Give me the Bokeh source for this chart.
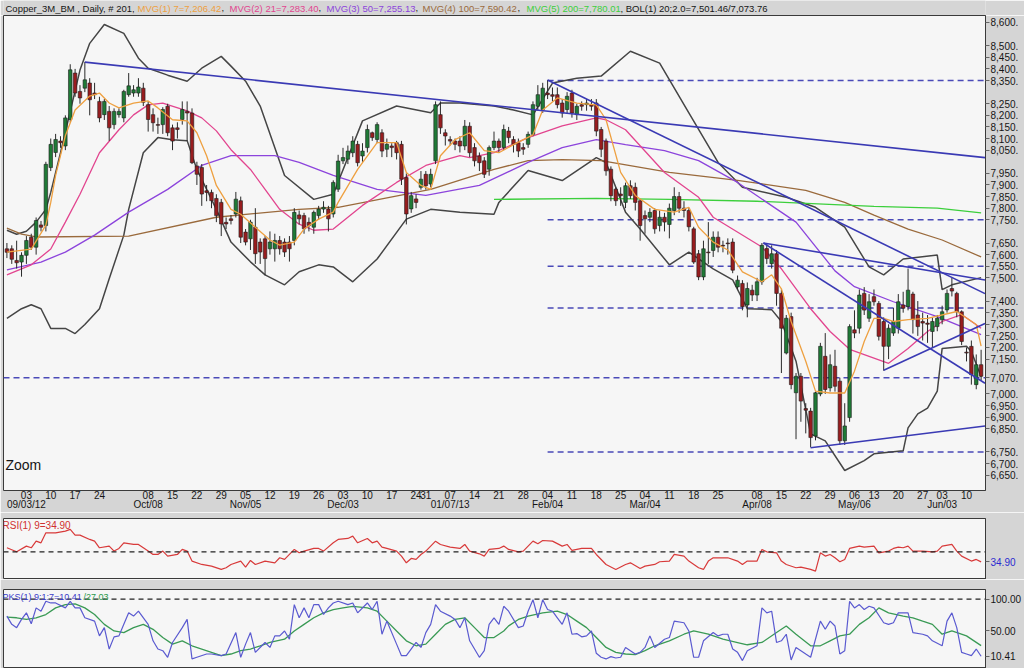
from bokeh.plotting import figure
from bokeh.models import Range1d, FixedTicker, Span, Label, LinearAxis, ColumnDataSource
from bokeh.layouts import column
from bokeh.embed import file_html
from bokeh.resources import INLINE

# ---------------- data ----------------
opens = [7625,7625,7575,7568,7597,7675,7632,7728,7725,7975,
         8040,8089,8068,8182,8382,8303,8317,8339,8296,8260,
         8203,8217,8160,8203,8189,8289,8296,8296,8317,8246,
         8203,8160,8160,8239,8146,8146,8182,8217,8210,7982,
         7975,7875,7868,7842,7825,7739,7754,7775,7832,7697,
         7668,7718,7654,7668,7625,7625,7661,7654,7654,7661,
         7771,7768,7739,7718,7768,7796,7796,7775,7882,8004,
         8011,8039,8075,8025,8061,8125,8096,8125,8054,8068,
         8082,8075,7932,7797,7840,7890,7946,7904,8004,8203,
         8125,8096,8089,8089,8068,8153,8061,8025,8004,7968,
         8061,8089,8061,8132,8096,8082,8061,8075,8118,8239,
         8225,8296,8289,8289,8253,8225,8296,8203,8246,8246,
         8246,8253,8139,8089,7968,7882,7861,7825,7897,7890,
         7832,7768,7761,7790,7725,7761,7730,7790,7850,7800,
         7790,7711,7604,7504,7611,7618,7675,7640,7650,7654,
         7461,7476,7383,7447,7426,7483,7626,7561,7604,7433,
         7176,7333,7005,7076,6937,6926,6819,7000,7162,7026,
         7119,7055,6798,6898,7276,7283,7433,7326,7419,7390,
         7312,7205,7262,7283,7383,7376,7430,7340,7312,7305,
         7269,7290,7319,7362,7454,7433,7354,7180,7205,7040,7126]
highs = [7650,7640,7660,7610,7680,7690,7760,7745,8000,8100,
         8120,8110,8200,8420,8400,8330,8430,8360,8340,8280,
         8270,8240,8230,8230,8310,8382,8330,8360,8340,8260,
         8230,8190,8235,8250,8160,8170,8260,8260,8230,8000,
         7990,7900,7880,7860,7840,7760,7770,7870,7850,7710,
         7750,7800,7670,7680,7700,7690,7680,7670,7680,7800,
         7790,7780,7760,7790,7810,7830,7810,7920,8030,8060,
         8070,8110,8090,8080,8160,8130,8170,8140,8100,8080,
         8090,8090,7950,7870,7860,7960,7960,7970,8260,8260,
         8140,8110,8100,8110,8180,8170,8080,8040,8020,8070,
         8130,8100,8160,8150,8110,8100,8080,8130,8260,8330,
         8340,8352,8320,8320,8270,8300,8310,8250,8260,8270,
         8270,8270,8150,8100,7980,7890,7890,7910,7920,7910,
         7840,7790,7800,7800,7790,7780,7820,7890,7870,7830,
         7800,7720,7620,7660,7740,7700,7700,7660,7670,7670,
         7510,7490,7480,7470,7500,7650,7650,7640,7620,7450,
         7340,7350,7090,7090,6960,6940,7010,7220,7262,7170,
         7190,7070,6960,7300,7360,7450,7460,7430,7450,7400,
         7330,7300,7370,7430,7440,7540,7440,7400,7350,7340,
         7330,7340,7380,7450,7500,7440,7360,7200,7230,7170,7190]
lows = [7585,7560,7540,7505,7560,7620,7600,7700,7700,7960,
        8020,8060,8050,8170,8280,8250,8300,8200,8270,8170,
        8180,8090,8140,8190,8170,8280,8280,8280,8240,8130,
        8130,8120,8120,8110,8050,8100,8160,8090,7990,7900,
        7810,7830,7800,7740,7680,7710,7730,7760,7650,7640,
        7620,7560,7560,7511,7600,7570,7600,7590,7570,7640,
        7730,7690,7700,7690,7750,7780,7700,7760,7870,7990,
        7990,8020,7980,8000,8040,8090,8080,8020,8020,8020,
        8010,7900,7730,7780,7800,7880,7880,7890,7990,8120,
        8070,8070,8050,8040,8050,8020,7980,7960,7930,7940,
        8050,8040,8050,8080,8040,8020,8030,8060,8110,8220,
        8210,8270,8260,8230,8190,8210,8190,8180,8220,8220,
        8220,8110,8020,7940,7830,7810,7810,7800,7840,7790,
        7660,7690,7740,7690,7700,7700,7670,7770,7780,7760,
        7700,7560,7490,7490,7560,7590,7610,7610,7600,7520,
        7450,7360,7330,7400,7400,7470,7560,7540,7380,7090,
        7170,7020,6805,6880,6830,6770,6800,6990,7000,7010,
        7010,6780,6780,6880,7240,7260,7340,7310,7380,7230,
        7100,7150,7250,7260,7350,7360,7260,7250,7230,7220,
        7200,7270,7300,7350,7420,7330,7210,7140,7040,7020,7060]
closes = [7610,7580,7565,7597,7661,7632,7747,7718,7989,8075,
          8096,8082,8189,8396,8296,8275,8353,8267,8289,8189,
          8260,8146,8217,8217,8303,8327,8310,8322,8256,8182,
          8168,8157,8225,8125,8089,8139,8225,8210,7996,7946,
          7861,7868,7832,7768,7732,7732,7747,7839,7675,7654,
          7740,7604,7611,7583,7654,7661,7625,7611,7625,7782,
          7754,7711,7725,7782,7796,7804,7754,7911,8003,8018,
          8046,8089,7996,8046,8139,8104,8160,8046,8075,8061,
          8039,7925,7775,7854,7825,7925,7897,7946,8246,8146,
          8111,8089,8075,8068,8153,8039,8004,7996,7946,8061,
          8089,8061,8139,8104,8075,8046,8054,8118,8246,8289,
          8317,8289,8282,8246,8210,8282,8210,8239,8239,8253,
          8239,8132,8054,7961,7854,7832,7854,7897,7854,7825,
          7725,7754,7782,7711,7761,7740,7800,7850,7800,7790,
          7720,7568,7504,7625,7608,7675,7632,7637,7647,7533,
          7490,7376,7454,7426,7483,7640,7583,7604,7433,7283,
          7326,7040,7076,6969,6930,6812,7005,7205,7019,7126,
          7033,6798,6862,7290,7262,7426,7361,7397,7397,7248,
          7205,7283,7312,7397,7369,7447,7320,7290,7305,7300,
          7312,7326,7354,7433,7443,7354,7226,7176,7083,7126,7076]

week_ticks = [4, 9, 14, 19, 29, 34, 39, 44, 49, 54, 59, 64, 69, 74, 79, 84, 86, 91, 96, 101,
              106, 111, 116, 121, 126, 131, 136, 141, 146, 154, 159, 164, 169, 174, 178, 183, 188, 192, 197]
week_labels = ["03", "10", "17", "24", "08", "15", "22", "29", "05", "12", "19", "26", "03", "10", "17",
               "24", "31", "07", "14", "21", "28", "04", "11", "18", "25", "04", "11", "18", "25", "08",
               "15", "22", "29", "06", "13", "20", "27", "03", "10"]
month_ticks = [4, 29, 49, 69, 91, 111, 131, 154, 174, 192]
month_labels = ["09/03/12", "Oct/08", "Nov/05", "Dec/03", "01/07/13", "Feb/04", "Mar/04", "Apr/08",
                "May/06", "Jun/03"]

price_ticks = [8600, 8500, 8450, 8400, 8350, 8250, 8200, 8150, 8100, 8050, 7950, 7900, 7850, 7800,
               7750, 7650, 7600, 7550, 7500, 7400, 7350, 7300, 7250, 7200, 7150, 7070, 7000, 6950,
               6900, 6850, 6750, 6700, 6650]

ma7_x = [0,5,8,9,10,12,14,17,19,21,23,26,29,31,34,37,39,41,43,46,48,51,54,56,59,61,64,67,68,72,
         76,80,82,85,87,89,92,95,98,101,104,108,110,113,117,121,123,126,129,133,137,140,142,145,148,
         151,155,157,159,161,164,166,169,172,174,176,178,180,182,185,189,195,199,200]
ma7_y = [7611,7624,7727,7825,7941,8112,8223,8283,8296,8253,8232,8253,8262,8232,8181,8176,8125,8026,
         7898,7795,7774,7718,7663,7641,7654,7710,7753,7783,7825,7967,8082,8082,7954,7898,7881,8026,
         8095,8125,8048,8039,8074,8116,8223,8275,8253,8245,8181,7954,7855,7795,7783,7804,7718,7654,
         7620,7526,7483,7513,7453,7312,7141,7012,7004,7004,7098,7226,7325,7325,7312,7320,7325,7355,
         7299,7206]
ma21_x = [0,5,9,12,15,19,23,26,29,32,37,40,43,46,50,53,56,60,63,67,73,80,86,93,95,100,107,114,121,
          123,127,135,142,145,155,159,165,169,173,177,181,185,189,192,196,200]
ma21_y = [7513,7556,7624,7740,7860,8039,8138,8202,8245,8253,8219,8189,8133,8052,7967,7881,7795,7731,
          7705,7710,7812,7911,7984,8026,8018,8039,8104,8155,8189,8181,8138,7954,7847,7761,7633,7539,
          7367,7269,7192,7162,7132,7196,7269,7312,7342,7283]
ma50_x = [0,7,12,18,25,33,40,46,55,60,67,76,86,97,107,114,121,127,135,142,150,156,162,170,174,182,
          191,200]
ma50_y = [7534,7568,7611,7684,7783,7881,7984,8026,8026,7997,7941,7881,7855,7898,7997,8061,8095,8074,
          8048,8005,7911,7825,7740,7530,7462,7397,7333,7255]
ma100_x = [0,3,6,25,43,60,68,87,100,107,114,122,136,150,164,172,178,185,192,200]
ma100_y = [7714,7688,7676,7680,7761,7795,7804,7881,7967,8005,8009,8005,7954,7920,7877,7825,7770,7710,
           7663,7590]
ma200_x = [100,121,136,154,178,191,200]
ma200_y = [7838,7842,7838,7830,7808,7800,7780]

bbu_x = [0,2,4,6,8,9,11,15,17,20,24,27,29,33,37,40,44,46,49,52,57,63,67,73,80,87,89,93,100,104,
         108,112,117,122,128,134,140,146,151,160,166,172,177,180,184,191,192,194,200]
bbu_y = [7705,7688,7701,7740,7795,7868,8039,8395,8510,8591,8553,8446,8403,8373,8347,8403,8454,8412,
         8347,8240,7941,7838,7860,8176,8240,8211,8253,8253,8240,8223,8202,8339,8360,8369,8476,8425,
         8211,7997,7890,7847,7804,7718,7547,7513,7581,7598,7449,7470,7501]
bbl_x = [0,3,5,7,9,12,14,16,19,21,24,25,28,31,34,37,39,43,46,50,53,57,60,64,67,71,76,82,87,93,
         100,101,107,114,121,123,127,130,136,140,145,149,152,157,159,162,165,168,172,176,178,184,185,
         187,189,191,192,197,198,200]
bbl_y = [7325,7367,7384,7367,7282,7282,7260,7299,7367,7496,7684,7795,8039,8104,8095,8091,7967,7795,
         7654,7569,7513,7470,7526,7556,7547,7483,7581,7753,7795,7783,7774,7825,7962,7919,8018,7997,
         7783,7710,7556,7611,7539,7491,7367,7363,7312,7141,6828,6798,6670,6713,6742,6755,6854,6914,
         6939,7012,7196,7205,7183,7074]

trend_x0 = [16, 111, 155.3, 155.3, 180, 165]
trend_y0 = [8429, 8352, 7650, 7650, 7102, 6768]
trend_x1 = [200.8, 200.8, 200.8, 200.8, 200.8, 200.8]
trend_y1 = [8018, 7432, 7491, 7046, 7303, 6862]

level_y = [8350, 7750, 7550, 7370, 7070, 6750]
level_x0 = [111, 111, 111, 111, -0.7, 111]

rsi_x = [0,2,4,5,6,7,8,10,12,13,14,15,17,18,19,21,22,23,24,26,27,29,30,31,32,33,35,36,37,38,40,42,
         44,45,46,48,49,50,51,53,55,56,57,59,60,61,63,64,65,67,68,70,71,72,74,75,76,77,78,80,81,82,
         83,84,85,86,88,89,91,93,94,95,97,98,99,101,102,103,105,106,108,109,110,112,114,115,116,118,
         120,121,123,125,127,128,130,131,133,134,136,137,139,140,142,143,144,145,147,148,150,151,152,
         154,155,156,158,159,160,162,163,165,166,167,168,169,170,171,172,173,175,176,178,179,181,182,
         183,184,185,186,188,190,191,192,194,195,196,198,199,200]
rsi_y = [56.2,50.1,58.7,56.2,66.2,63.7,78.8,78.8,81.3,83.9,75.3,75.3,68.8,66.2,56.2,58.7,51.2,55.2,
         63.7,61.2,61.2,51.2,46.1,46.1,51.2,43.6,46.1,53.7,51.2,36.1,31.0,28.5,23.5,26.0,31.0,36.1,
         27.0,37.1,31.0,36.1,33.5,41.1,38.6,53.7,48.6,51.2,55.2,55.2,51.2,63.7,68.8,70.3,73.8,63.7,
         70.3,63.7,66.2,57.2,55.2,51.2,43.6,33.5,40.1,38.6,46.1,51.2,66.2,61.2,57.2,55.2,61.2,51.2,
         47.1,43.6,53.7,55.2,58.7,53.7,50.1,51.2,66.2,62.2,67.2,66.2,58.7,61.2,52.2,55.2,55.2,46.1,
         31.0,23.5,31.0,33.5,25.0,28.5,31.0,35.1,36.1,46.1,43.6,36.1,26.0,23.5,36.1,41.1,41.1,41.1,
         36.1,31.0,36.1,36.1,53.7,50.1,48.6,36.1,31.0,26.0,27.0,23.5,21.0,48.6,43.6,46.1,41.1,35.1,
         38.6,55.2,58.7,57.2,58.7,48.6,51.2,55.2,57.2,56.2,58.7,51.2,51.2,50.1,51.2,58.7,61.2,51.2,
         43.6,36.1,38.6,34.9]

stk_x = [0,1,2,3,4,5,6,7,8,9,10,12,13,14,15,16,18,19,20,21,22,23,24,25,26,27,29,30,31,32,33,34,36,
         37,38,39,41,42,44,45,47,48,49,50,51,53,54,55,56,57,58,59,60,61,62,63,64,65,66,67,68,70,71,
         72,74,75,76,77,78,80,81,82,84,85,86,87,88,89,91,92,93,94,95,97,98,99,100,101,102,103,105,
         106,107,108,109,110,111,112,113,114,115,116,117,118,119,120,121,122,123,124,125,126,127,128,
         129,130,131,132,133,135,136,137,139,140,141,142,143,145,146,147,148,149,150,151,152,154,155,
         156,157,158,159,160,161,162,163,164,165,167,168,169,170,171,172,173,174,175,176,177,178,180,
         181,182,183,184,185,186,188,189,190,192,193,194,195,196,197,198,199,200]
stk_y = [73.3,60.4,55.2,68.1,78.4,61.4,86.2,81.0,96.5,93.9,93.9,86.2,96.5,86.2,86.2,70.7,65.5,42.3,
         55.2,21.7,40.8,42.3,60.4,78.4,73.3,81.0,60.4,34.6,21.7,19.1,8.8,32.0,55.2,68.1,6.2,8.8,
         13.9,13.9,11.3,13.9,47.5,8.8,29.4,47.5,16.5,32.0,24.2,42.3,42.3,50.0,37.1,91.3,70.7,86.2,
         70.7,91.3,91.3,75.8,86.2,93.9,96.5,91.3,93.9,78.4,93.9,83.6,96.5,44.9,65.5,29.4,11.3,11.3,
         32.0,24.2,47.5,60.4,91.3,81.0,73.3,68.1,55.2,70.7,34.6,8.8,19.1,60.4,70.7,60.4,88.7,81.0,
         55.2,57.8,81.0,99.1,70.7,99.1,83.6,81.0,70.7,60.4,78.4,44.9,45.9,40.8,42.3,50.0,15.0,8.8,
         6.2,9.8,7.7,8.8,24.2,19.1,13.9,16.5,24.2,42.3,24.2,37.1,39.7,65.5,62.9,50.0,8.8,8.8,34.6,
         47.5,42.3,44.9,44.9,21.7,16.5,3.6,19.1,26.8,86.2,78.4,81.0,32.0,34.6,44.9,4.6,24.2,19.1,
         13.9,8.8,65.5,52.6,65.5,57.8,13.9,19.1,96.5,86.2,91.3,83.6,88.7,86.2,62.9,60.4,62.9,78.4,
         78.4,78.4,47.5,44.9,42.3,34.6,26.8,65.5,78.4,55.2,16.5,13.9,11.3,21.7,10.41]
std_x = [0,2,4,6,8,10,12,14,16,18,20,22,24,26,28,30,32,34,36,38,40,42,44,46,48,50,52,54,57,59,61,
         63,65,67,69,71,74,76,78,80,82,84,86,88,90,92,94,96,98,100,102,103,105,107,110,113,115,117,
         119,121,123,125,127,129,131,133,136,139,141,144,147,150,152,155,158,160,162,165,167,169,171,
         173,175,177,179,181,184,186,188,190,192,194,197,200]
std_y = [71.7,70.7,68.1,70.7,75.8,86.2,91.3,92.4,86.2,75.8,60.4,50.0,47.5,55.2,60.4,52.6,39.7,29.4,
         34.6,26.8,21.7,16.5,11.3,13.9,19.1,21.7,26.8,32.0,37.1,50.0,60.4,70.7,78.4,83.6,86.2,88.7,
         86.2,81.0,65.5,50.0,34.6,26.8,29.4,44.9,60.4,68.1,70.7,55.2,39.7,39.7,50.0,58.0,68.1,73.3,
         78.4,81.0,75.8,65.5,55.2,39.7,24.2,16.5,13.9,12.9,19.1,26.8,34.6,44.9,50.0,44.9,37.1,31.9,
         28.4,32.0,47.5,57.8,44.9,26.8,26.8,34.6,42.3,44.9,60.4,70.7,86.2,78.4,73.3,70.7,65.5,60.4,
         44.9,50.0,42.3,27.03]

header_parts = ["Copper_3M_BM , Daily, # 201,", "MVG(1) 7=7,206.42", ",", "MVG(2) 21=7,283.40", ",",
                "MVG(3) 50=7,255.13", ",", "MVG(4) 100=7,590.42", ",", "MVG(5) 200=7,780.01",
                ", BOL(1) 20;2.0=7,501.46/7,073.76"]

# ---------------- styling ----------------
FONT = "Liberation Sans"
OUTER = "#d5d5d5"
INNER = "#f6f6f6"
FRAME = "#3a3a3a"
UP = "#1f7a36"
DOWN = "#981d1f"
TREND = "#3a3ab4"
C_MA7, C_MA21, C_MA50, C_MA100, C_MA200 = "#eea040", "#e2458f", "#8c44dc", "#9a6a3c", "#3ccf3c"
BLACK = "#151515"
BLUE_TXT = "#2b2bd0"
W = 1024
LB, RB = 3, 36

header_colors = [BLACK, C_MA7, BLACK, C_MA21, BLACK, C_MA50, BLACK, C_MA100, BLACK, C_MA200, BLACK]
header_x = [2, 134, 218, 226, 315, 323, 412, 419, 514, 523, 617]

x_range = Range1d(-0.7, 200.9)


def style_yaxis(ax):
    ax.major_tick_out = 4
    ax.major_tick_in = 0
    ax.minor_tick_out = 0
    ax.minor_tick_in = 0
    ax.axis_line_color = FRAME
    ax.major_tick_line_color = "#666666"
    ax.major_label_text_font = FONT
    ax.major_label_text_font_size = "10px"
    ax.major_label_text_color = BLACK
    ax.major_label_standoff = 1


def make_fig(h, y0, y1, top, bottom, xloc):
    f = figure(width=W, height=h, x_range=x_range, y_range=Range1d(y0, y1),
               output_backend="svg", toolbar_location=None,
               x_axis_location=xloc, y_axis_location="right",
               min_border_left=LB, min_border_right=RB, min_border_top=top, min_border_bottom=bottom,
               background_fill_color=INNER, border_fill_color=OUTER,
               outline_line_color=FRAME, outline_line_width=1)
    f.grid.visible = False
    style_yaxis(f.yaxis[0])
    return f


def lab(fig, text, x, y, color, size="10px", xu="data", yu="data", xo=0, yo=0, base="middle"):
    fig.add_layout(Label(x=x, y=y, x_units=xu, y_units=yu, x_offset=xo, y_offset=yo, text=text,
                         text_color=color, text_font=FONT, text_font_size=size,
                         text_baseline=base, text_align="left"))


# ---------------- header strip ----------------
HDR_H = 15
hdr = figure(width=W, height=HDR_H, x_range=Range1d(0, W), y_range=Range1d(0, HDR_H),
             output_backend="svg", toolbar_location=None, x_axis_location=None, y_axis_location=None,
             min_border=0, background_fill_color=OUTER, border_fill_color=OUTER,
             outline_line_color=None)
hdr.grid.visible = False
for txt, col, hx in zip(header_parts, header_colors, header_x):
    lab(hdr, txt, hx, HDR_H / 2, col, size="9.5px", xu="screen", yu="screen", base="middle")

# ---------------- main price panel ----------------
YMIN, YMAX = 6584, 8630
p = make_fig(497, YMIN, YMAX, 0, 21, "below")
pax = p.yaxis[0]
pax.ticker = FixedTicker(ticks=price_ticks)
pax.major_label_overrides = {t: f"{t:,}." for t in price_ticks}

dax = p.xaxis[0]
dax.ticker = FixedTicker(ticks=week_ticks)
dax.major_label_overrides = {t: s for t, s in zip(week_ticks, week_labels)}
dax.major_tick_out = 0
dax.major_tick_in = 0
dax.minor_tick_out = 0
dax.minor_tick_in = 0
dax.axis_line_color = None
dax.major_label_standoff = 0
dax.major_label_text_font = FONT
dax.major_label_text_font_size = "10px"
dax.major_label_text_color = BLACK
max_ = LinearAxis(ticker=FixedTicker(ticks=month_ticks),
                  major_label_overrides={t: s for t, s in zip(month_ticks, month_labels)},
                  major_tick_out=0, major_tick_in=0, minor_tick_out=0, minor_tick_in=0,
                  axis_line_color=None, major_label_standoff=-3,
                  major_label_text_font=FONT, major_label_text_font_size="10px",
                  major_label_text_color=BLACK)
p.add_layout(max_, "below")

# horizontal dashed levels
p.segment(x0=level_x0, y0=level_y, x1=[x_range.end] * len(level_y), y1=level_y,
          line_color="#4a4ab8", line_width=1.5, line_dash="6 4")

# bollinger bands
p.line(bbu_x, bbu_y, line_color="#454545", line_width=1.5)
p.line(bbl_x, bbl_y, line_color="#454545", line_width=1.5)

# slower moving averages
p.line(ma100_x, ma100_y, line_color=C_MA100, line_width=1.3)
p.line(ma200_x, ma200_y, line_color=C_MA200, line_width=1.3)
p.line(ma50_x, ma50_y, line_color=C_MA50, line_width=1.3)
p.line(ma21_x, ma21_y, line_color=C_MA21, line_width=1.3)

# candles
src = ColumnDataSource(dict(
    x=list(range(len(opens))),
    top=[max(o, c) for o, c in zip(opens, closes)],
    bottom=[min(o, c) for o, c in zip(opens, closes)],
    high=highs, low=lows,
    color=[UP if c >= o else DOWN for o, c in zip(opens, closes)],
))
p.segment(x0="x", y0="low", x1="x", y1="high", source=src, line_color="#2a2a2a", line_width=1)
p.vbar(x="x", width=0.72, top="top", bottom="bottom", fill_color="color",
       line_color="#1c1c1c", line_width=0.6, source=src)

p.line(ma7_x, ma7_y, line_color=C_MA7, line_width=1.3)

# trend lines
p.segment(x0=trend_x0, y0=trend_y0, x1=trend_x1, y1=trend_y1, line_color=TREND, line_width=1.6)

lab(p, "Zoom", 2, YMIN, BLACK, size="14px", xu="screen", yo=26, base="alphabetic")

# ---------------- RSI panel ----------------
r = make_fig(67, 8.3, 100.4, 6, 0, None)
rax = r.yaxis[0]
rax.ticker = FixedTicker(ticks=[rsi_y[-1]])
rax.major_label_overrides = {rsi_y[-1]: f"{rsi_y[-1]:.2f}"}
rax.major_label_text_color = BLUE_TXT
r.add_layout(Span(location=50, dimension="width", line_color="#222222", line_width=1.2, line_dash="5 4"))
r.line(rsi_x, rsi_y, line_color="#d83a3a", line_width=1.2)
lab(r, f"RSI(1) 9={rsi_y[-1]:.2f}", -1, 100.4, "#d03030", xu="screen", yo=-1, base="top")

# ---------------- stochastic panel ----------------
s = make_fig(89, -8.8, 115, 10, 0, None)
sax = s.yaxis[0]
sax.ticker = FixedTicker(ticks=[100, 50, stk_y[-1]])
sax.major_label_overrides = {100: "100.00", 50: "50.00", stk_y[-1]: f"{stk_y[-1]:.2f}"}
s.add_layout(Span(location=100, dimension="width", line_color="#222222", line_width=1.2, line_dash="5 4"))
s.line(std_x, std_y, line_color="#3a9a55", line_width=1.3)
s.line(stk_x, stk_y, line_color="#5a5ad0", line_width=1.2)
lab(s, f"PKS(1) 9:1:7={stk_y[-1]:.2f}", -1, 115, "#3a3ac8", size="9px", xu="screen", yo=-2, base="top")
lab(s, f"/{std_y[-1]:.2f}", 80, 115, "#2a9a4a", size="9px", xu="screen", yo=-2, base="top")

layout = column(hdr, p, r, s, spacing=0)
open("out.html", "w").write(file_html(layout, INLINE))
